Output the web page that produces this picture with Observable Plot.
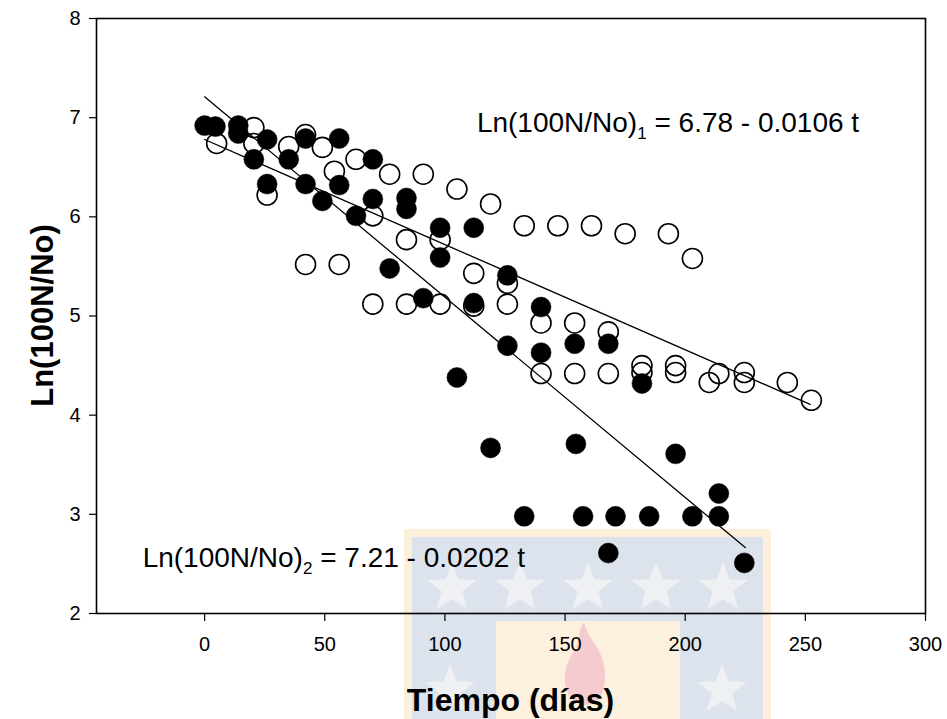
<!DOCTYPE html>
<html>
<head>
<meta charset="utf-8">
<script src="https://cdn.jsdelivr.net/npm/d3@7"></script>
<script src="https://cdn.jsdelivr.net/npm/@observablehq/plot@0.6"></script>
<style>
  html, body { margin: 0; padding: 0; background: white; }
  #wrap { position: relative; width: 947px; height: 719px; overflow: hidden; }
  #wm { position: absolute; left: 0; top: 0; }
  #chart { position: absolute; left: 0; top: 0; }
</style>
</head>
<body>
<div id="wrap">
  <svg id="wm" width="947" height="719"></svg>
  <div id="chart"></div>
</div>
<script>
// Series 1 (open circles): time (days) and Ln(100N/No)
const openT = [5, 20.5, 20.5, 35, 42, 49, 26, 54, 63, 77, 91, 105, 119, 133, 147, 161, 175, 193, 203,
  70, 84, 98, 112, 126, 42, 56, 70, 84, 98, 112, 126, 140, 154, 168, 140, 154, 168, 182, 182, 196, 196,
  210, 214, 224.6, 224.6, 242.5, 252.5];
const openY = [6.74, 6.90, 6.74, 6.71, 6.83, 6.70, 6.22, 6.46, 6.58, 6.43, 6.43, 6.28, 6.13, 5.91, 5.91, 5.91, 5.83, 5.83, 5.58,
  6.01, 5.77, 5.77, 5.43, 5.33, 5.52, 5.52, 5.12, 5.12, 5.12, 5.10, 5.12, 4.93, 4.93, 4.84, 4.42, 4.42, 4.42, 4.50, 4.43, 4.50, 4.43,
  4.33, 4.42, 4.43, 4.33, 4.33, 4.15];

// Series 2 (filled circles)
const fillT = [0, 4.5, 14, 14, 26, 20.5, 35, 26, 42, 56, 42, 56, 49, 63, 70, 70, 84, 84, 98, 112, 98, 126, 112, 140,
  77, 91, 126, 140, 154, 168, 182, 105, 119, 154.5, 196, 214, 133, 157.5, 171, 185, 203, 214, 168, 224.6];
const fillY = [6.92, 6.91, 6.92, 6.84, 6.78, 6.58, 6.58, 6.33, 6.79, 6.79, 6.33, 6.32, 6.16, 6.01, 6.58, 6.18, 6.19, 6.08, 5.89, 5.89, 5.59, 5.41, 5.13, 5.09,
  5.48, 5.18, 4.70, 4.63, 4.72, 4.72, 4.32, 4.38, 3.67, 3.71, 3.61, 3.21, 2.98, 2.98, 2.98, 2.98, 2.98, 2.98, 2.61, 2.51];

// Regression fits: Ln(100N/No) = a + b t
const fitName = ["1", "2"];
const fitA = [6.78, 7.21];
const fitB = [-0.0106, -0.0202];
const fitT0 = [0, 0];
const fitT1 = [252, 225];

// Equation labels
const eqMain = ["Ln(100N/No)", "Ln(100N/No)"];
const eqSub = ["1", "2"];
const eqRest = [" = 6.78 - 0.0106 t", " = 7.21 - 0.0202 t"];
const eqT = [113.3, -25.8];
const eqY = [6.95, 2.555];

const xTicks = [0, 50, 100, 150, 200, 250, 300];
const yTicks = [2, 3, 4, 5, 6, 7, 8];
const xTitle = "Tiempo (días)";
const yTitle = "Ln(100N/No)";

const openPts = openT.map((t, i) => ({t, y: openY[i]}));
const fillPts = fillT.map((t, i) => ({t, y: fillY[i]}));
const fitLines = fitName.flatMap((k, i) => [fitT0[i], fitT1[i]].map(t => ({k, t, y: fitA[i] + fitB[i] * t})));
const eqs = eqMain.map((m, i) => ({t: eqT[i], y: eqY[i], txt: m + eqSub[i] + eqRest[i], i}));

const W = 947, H = 719, ML = 96, MR = 22, MT = 18, MB = 106;
const font = "'Liberation Sans', Arial, Helvetica, sans-serif";
const fmt = d => String(d);

const plot = Plot.plot({
  width: W, height: H,
  marginLeft: ML, marginRight: MR, marginTop: MT, marginBottom: MB,
  style: {background: "transparent", fontFamily: font, fontSize: "20px", color: "black", overflow: "visible"},
  x: {domain: [-45, 300], label: null},
  y: {domain: [2, 8], label: null},
  marks: [
    Plot.axisX({ticks: xTicks, tickFormat: fmt, tickSize: 8, tickPadding: 15, fontSize: 20, label: null, stroke: "black", strokeWidth: 1.2}),
    Plot.axisY({ticks: yTicks, tickFormat: fmt, tickSize: 7, tickPadding: 9, fontSize: 20, label: null, stroke: "black", strokeWidth: 1.2}),
    Plot.line(fitLines, {x: "t", y: "y", z: "k", stroke: "black", strokeWidth: 1.3}),
    Plot.dot(openPts, {x: "t", y: "y", r: 10, stroke: "black", strokeWidth: 1.6, fill: "none"}),
    Plot.dot(fillPts, {x: "t", y: "y", r: 10, fill: "black", stroke: "black", strokeWidth: 0.5}),
    Plot.text(eqs, {x: "t", y: "y", text: "txt", textAnchor: "start", fontSize: 28, fill: "black"}),
    Plot.frame({stroke: "black", strokeWidth: 1.6})
  ]
});
document.getElementById("chart").appendChild(plot);

const svg = d3.select(plot);
// subscripts in the equation labels
svg.selectAll('g[aria-label="text"] text').each(function(d, j) {
  const el = d3.select(this);
  el.text(null);
  el.append("tspan").text(eqMain[j]);
  el.append("tspan").attr("font-size", 17).attr("dy", 7).text(eqSub[j]);
  el.append("tspan").attr("dy", -7).text(eqRest[j]);
});
// axis titles
svg.append("text").attr("x", (ML + W - MR) / 2).attr("y", 700).attr("dy", "0.35em")
  .attr("text-anchor", "middle").attr("font-size", 32).attr("font-weight", "bold")
  .attr("font-family", font).attr("fill", "black").text(xTitle);
svg.append("text").attr("transform", `translate(42, ${(MT + H - MB) / 2}) rotate(-90)`).attr("dy", "0.35em")
  .attr("text-anchor", "middle").attr("font-size", 31).attr("font-weight", "bold")
  .attr("font-family", font).attr("fill", "black").text(yTitle);

// faint background watermark from the source document
const wm = d3.select("#wm");
wm.append("rect").attr("x", 404).attr("y", 529).attr("width", 367).attr("height", 200).attr("fill", "#fcf0da");
wm.append("rect").attr("x", 412).attr("y", 537).attr("width", 351).attr("height", 200).attr("fill", "#dde3ec");
wm.append("rect").attr("x", 496).attr("y", 621).attr("width", 184).attr("height", 110).attr("fill", "#fcf1de");
function starPath(cx, cy, R) {
  const r = R * 0.42; let p = [];
  for (let k = 0; k < 10; k++) {
    const a = -Math.PI / 2 + k * Math.PI / 5, rr = k % 2 ? r : R;
    p.push([cx + rr * Math.cos(a), cy + rr * Math.sin(a)]);
  }
  return "M" + p.map(q => q.join(",")).join("L") + "Z";
}
[[452, 588], [520, 588], [588, 588], [656, 588], [723, 588], [450, 690], [722, 690]].forEach(([cx, cy]) =>
  wm.append("path").attr("d", starPath(cx, cy, 26)).attr("fill", "#eef0f3"));
wm.append("path").attr("d", "M585,705 C560,700 560,670 575,650 C580,640 578,630 584,622 C588,640 600,645 604,665 C608,690 600,705 585,705Z")
  .attr("fill", "#f6cbd0");
</script>
</body>
</html>
